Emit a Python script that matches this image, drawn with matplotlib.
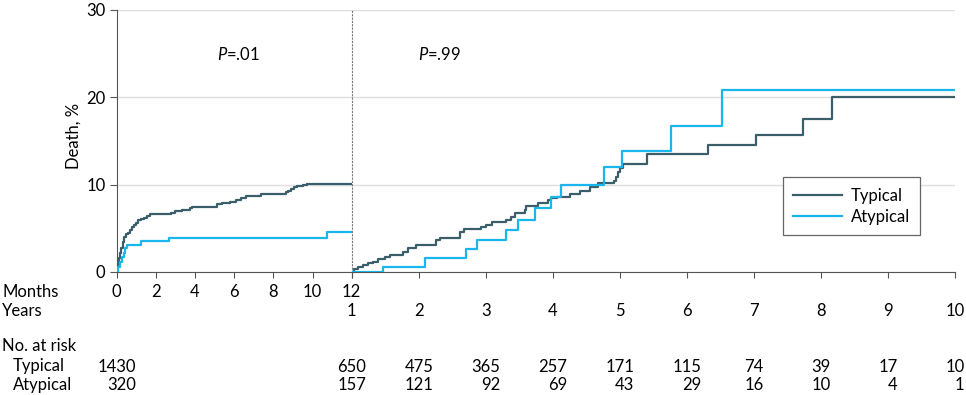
import matplotlib
matplotlib.use('Agg')
import matplotlib.pyplot as plt
import matplotlib.transforms as mtransforms
from matplotlib.lines import Line2D

plt.rcParams['font.family'] = ['Lato', 'DejaVu Sans']
plt.rcParams['mathtext.fontset'] = 'custom'
plt.rcParams['mathtext.it'] = 'Lato:italic'
plt.rcParams['mathtext.rm'] = 'Lato'

# ---------------- data ----------------
# First year (months)
typ_month_t = [0, 0.04, 0.08, 0.13, 0.18, 0.24, 0.3, 0.37, 0.47, 0.6, 0.7, 0.8, 0.9, 1.0,
               1.1, 1.25, 1.4, 1.55, 1.7, 2.75, 3.0, 3.35, 3.75, 3.85, 5.1, 5.4, 5.8, 6.07,
               6.35, 6.58, 7.35, 8.63, 8.75, 8.89, 9.05, 9.23, 9.5, 9.74, 12]
typ_month_v = [0, 0.6, 1.1, 1.6, 2.2, 2.8, 3.4, 4.0, 4.3, 4.5, 4.8, 5.1, 5.4, 5.6,
               5.9, 6.05, 6.2, 6.45, 6.65, 6.8, 6.95, 7.1, 7.3, 7.5, 7.75, 7.9, 8.05, 8.25,
               8.45, 8.7, 8.9, 9.15, 9.3, 9.5, 9.7, 9.85, 9.95, 10.05, 10.05]
aty_month_t = [0, 0.05, 0.15, 0.26, 0.35, 0.43, 0.55, 1.25, 2.65, 10.75, 12]
aty_month_v = [0, 0.6, 1.2, 1.7, 2.2, 2.7, 3.1, 3.55, 3.9, 4.6, 4.6]

# Years 1-10
typ_year_t = [1.0, 1.03, 1.1, 1.17, 1.24, 1.32, 1.39, 1.5, 1.57, 1.76, 1.84, 1.96, 2.26,
              2.31, 2.61, 2.68, 2.93, 3.0, 3.1, 3.3, 3.38, 3.43, 3.58, 3.6, 3.78, 3.93,
              3.98, 4.07, 4.25, 4.4, 4.55, 4.67, 4.92, 4.94, 4.97, 5.0, 5.04, 5.41, 6.32,
              7.03, 7.73, 8.16, 10]
typ_year_v = [0, 0.3, 0.55, 0.8, 1.0, 1.2, 1.45, 1.7, 1.95, 2.3, 2.7, 3.1, 3.65,
              3.95, 4.6, 4.9, 5.1, 5.4, 5.75, 5.95, 6.3, 6.7, 7.1, 7.55, 7.9, 8.2,
              8.45, 8.6, 8.95, 9.3, 9.75, 10.15, 10.4, 10.9, 11.4, 11.9, 12.4, 13.5, 14.5,
              15.7, 17.5, 20.0, 20.0]
aty_year_t = [1.0, 1.47, 2.1, 2.71, 2.87, 3.3, 3.48, 3.73, 3.98, 4.12, 4.77, 5.03, 5.76, 6.53, 10]
aty_year_v = [0, 0.6, 1.55, 2.6, 3.65, 4.8, 5.95, 7.3, 8.6, 10.0, 12.0, 13.9, 16.7, 20.8, 20.8]

month_ticks = [0, 2, 4, 6, 8, 10, 12]
year_ticks = [1, 2, 3, 4, 5, 6, 7, 8, 9, 10]
y_ticks = [0, 10, 20, 30]

risk_times_month = [0]
risk_typ_month = [1430]
risk_aty_month = [320]
risk_typ_year = [650, 475, 365, 257, 171, 115, 74, 39, 17, 10]
risk_aty_year = [157, 121, 92, 69, 43, 29, 16, 10, 4, 1]

series_names = ['Typical', 'Atypical']
p_left = '$P$=.01'
p_right = '$P$=.99'

# ---------------- style ----------------
C_TYP = '#3b5e6b'
C_ATY = '#19b6ee'
C_AX = '#555555'
C_GRID = '#dedede'
FS = 12
LW = 1.6

W, H = 966, 395
fig = plt.figure(figsize=(W / 100, H / 100), dpi=100)


def fx(px):
    return px / W


def fy(py):
    return 1 - py / H


x0, xs, x1 = 116.7, 351.7, 955.0
yb, yt = 272.0, 10.0
axL = fig.add_axes([fx(x0), fy(yb), fx(xs) - fx(x0), fy(yt) - fy(yb)])
axR = fig.add_axes([fx(xs), fy(yb), fx(x1) - fx(xs), fy(yt) - fy(yb)])

for ax in (axL, axR):
    ax.set_ylim(0, 30)
    ax.set_yticks(y_ticks)
    ax.yaxis.grid(True, color=C_GRID, lw=1.0)
    ax.set_axisbelow(True)
    ax.spines['top'].set_visible(False)
    ax.spines['right'].set_visible(False)
    ax.spines['bottom'].set_color(C_AX)
    ax.set_facecolor('none')

axL.set_xlim(0, 12)
axR.set_xlim(1, 10)
axL.set_xticks(month_ticks)
axR.set_xticks(year_ticks)
axL.tick_params(axis='x', direction='out', length=4, color=C_AX, labelbottom=False)
axR.tick_params(axis='x', direction='out', length=4, color=C_AX, labelbottom=False)
axL.tick_params(axis='y', direction='out', length=5, color=C_AX, labelsize=FS, pad=3)
axR.tick_params(axis='y', length=0, labelleft=False)
axL.spines['left'].set_color(C_AX)
axR.spines['left'].set_linestyle((0, (1, 2)))
axR.spines['left'].set_color('#777777')
axR.spines['left'].set_linewidth(0.8)

axL.step(typ_month_t, typ_month_v, where='post', color=C_TYP, lw=LW, zorder=3)
axL.step(aty_month_t, aty_month_v, where='post', color=C_ATY, lw=LW, zorder=3)
axR.step(typ_year_t, typ_year_v, where='post', color=C_TYP, lw=LW, zorder=3)
axR.step(aty_year_t, aty_year_v, where='post', color=C_ATY, lw=LW, zorder=4)

axL.text(6.2, 24.9, p_left, ha='center', va='center', fontsize=FS)
axR.text(2.31, 24.9, p_right, ha='center', va='center', fontsize=FS)

handles = [Line2D([], [], color=C_TYP, lw=LW), Line2D([], [], color=C_ATY, lw=LW)]
leg = fig.legend(handles, series_names, loc='upper left',
                 bbox_to_anchor=(fx(782.7), fy(177.3)), fontsize=FS,
                 frameon=True, fancybox=False, framealpha=1, edgecolor='#666666',
                 handlelength=2.95, handletextpad=0.5, labelspacing=0.3,
                 borderpad=0.62, borderaxespad=0)
leg.get_frame().set_linewidth(0.9)

fig.text(fx(73.5), fy(136), 'Death, %', rotation=90, ha='center', va='center', fontsize=FS)

# axis label rows
tL = mtransforms.blended_transform_factory(axL.transData, fig.transFigure)
tR = mtransforms.blended_transform_factory(axR.transData, fig.transFigure)
base_month = fy(297)
base_year = fy(316.5)
base_nar = fy(351)
base_typ = fy(371.5)
base_aty = fy(390)

fig.text(fx(2), base_month, 'Months', ha='left', va='baseline', fontsize=FS)
fig.text(fx(2), base_year, 'Years', ha='left', va='baseline', fontsize=FS)
for m in month_ticks:
    axL.text(m, base_month, str(m), transform=tL, ha='center', va='baseline', fontsize=FS)
for yv in year_ticks:
    axR.text(yv, base_year, str(yv), transform=tR, ha='center', va='baseline', fontsize=FS)

fig.text(fx(2), base_nar, 'No. at risk', ha='left', va='baseline', fontsize=FS)
fig.text(fx(13), base_typ, series_names[0], ha='left', va='baseline', fontsize=FS)
fig.text(fx(13), base_aty, series_names[1], ha='left', va='baseline', fontsize=FS)

fig.canvas.draw()
renderer = fig.canvas.get_renderer()
inv = fig.transFigure.inverted()


def risk_pair(ax, trans, xv, ntyp, naty):
    t1 = ax.text(xv, base_typ, str(ntyp), transform=trans, ha='center', va='baseline', fontsize=FS)
    bb = t1.get_window_extent(renderer=renderer)
    xr = inv.transform((bb.x1, 0))[0]
    fig.text(xr, base_aty, str(naty), ha='right', va='baseline', fontsize=FS)


for xv, a, b in zip(risk_times_month, risk_typ_month, risk_aty_month):
    risk_pair(axL, tL, xv, a, b)
for xv, a, b in zip(year_ticks, risk_typ_year, risk_aty_year):
    risk_pair(axR, tR, xv, a, b)

fig.savefig('out.png', dpi=100)
